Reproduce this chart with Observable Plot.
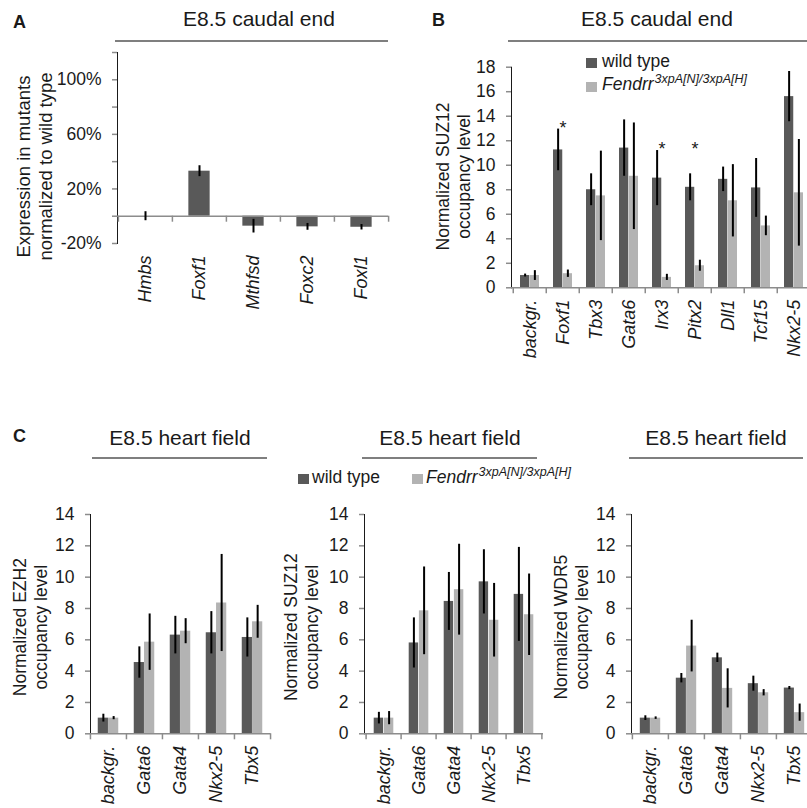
<!DOCTYPE html>
<html>
<head>
<meta charset="utf-8">
<script src="https://cdn.jsdelivr.net/npm/d3@7"></script>
<script src="https://cdn.jsdelivr.net/npm/@observablehq/plot@0.6"></script>
<style>
html, body { margin: 0; padding: 0; background: #fff; }
#fig { position: relative; width: 807px; height: 808px; overflow: hidden; background: #fff;
  font-family: 'Liberation Sans', Arial, Helvetica, sans-serif; color: #1a1a1a; }
.title { position: absolute; font-size: 21px; line-height: 21px; white-space: nowrap; text-align: center; width: 400px; }
.hline { position: absolute; height: 2px; background: #7f7f7f; }
.letter { position: absolute; font-size: 18px; line-height: 18px; font-weight: bold; }
.sw { position: absolute; width: 11px; height: 10px; }
.lg { position: absolute; font-size: 17.5px; line-height: 17.5px; white-space: nowrap; }
.lg i sup { font-size: 12.5px; vertical-align: baseline; position: relative; top: -7px; margin-left: 1px; }
.panel { position: absolute; }
.panel svg [aria-label^="y-axis"] line, .panel svg [aria-label^="y-axis"] path { stroke: #8c8c8c; stroke-width: 1.5px; }
.panel svg [aria-label^="y-axis"] text { fill: #1a1a1a; }
.panel svg [aria-label^="x-axis"] text { fill: #1a1a1a; font-style: italic; font-size: 18px; }
</style>
</head>
<body>
<div id="fig">
  <div class="letter" style="left:13px;top:12.8px;">A</div>
  <div class="title" style="left:59px;top:8.2px;">E8.5 caudal end</div>
  <div class="hline" style="left:115px;width:273px;top:40px;"></div>

  <div class="letter" style="left:432px;top:10.8px;">B</div>
  <div class="title" style="left:457px;top:8.2px;">E8.5 caudal end</div>
  <div class="hline" style="left:508px;width:299px;top:40px;"></div>
  <div class="sw" style="left:586px;top:58px;background:#595959;"></div>
  <div class="lg" style="left:602px;top:52.7px;">wild type</div>
  <div class="sw" style="left:586px;top:82px;background:#b3b3b3;"></div>
  <div class="lg" style="left:602px;top:76.2px;"><i>Fendrr<sup>3xpA[N]/3xpA[H]</sup></i></div>

  <div class="letter" style="left:13px;top:426.8px;">C</div>
  <div class="title" style="left:-20px;top:427.2px;">E8.5 heart field</div>
  <div class="hline" style="left:92px;width:175px;top:457px;"></div>
  <div class="title" style="left:250px;top:427.2px;">E8.5 heart field</div>
  <div class="hline" style="left:362px;width:175px;top:457px;"></div>
  <div class="title" style="left:516px;top:427.2px;">E8.5 heart field</div>
  <div class="hline" style="left:629px;width:174px;top:457px;"></div>
  <div class="sw" style="left:298px;top:474px;background:#595959;"></div>
  <div class="lg" style="left:312px;top:469.2px;">wild type</div>
  <div class="sw" style="left:412px;top:474px;background:#b3b3b3;"></div>
  <div class="lg" style="left:426px;top:469.2px;"><i>Fendrr<sup>3xpA[N]/3xpA[H]</sup></i></div>
</div>
<script>
// ---------- DATA ----------
// Panel A: expression in mutants normalized to wild type (%)
const aGenes = ["Hmbs", "Foxf1", "Mthfsd", "Foxc2", "Foxl1"];
const aExpression = [0, 33, -7.3, -7.8, -8.1];
const aError = [3.3, 4, 5, 2.5, 2];
const aTicks = [-20, 0, 20, 40, 60, 80, 100, 120];
const aTickLabels = ["-20%", "", "20%", "", "60%", "", "100%", ""];

// Panel B: SUZ12 occupancy, caudal end
const bGenes = ["backgr.", "Foxf1", "Tbx3", "Gata6", "Irx3", "Pitx2", "Dll1", "Tcf15", "Nkx2-5"];
const bWildType = [1.0, 11.25, 8.0, 11.4, 8.95, 8.2, 8.85, 8.15, 15.6];
const bWildTypeErr = [0.12, 1.7, 1.3, 2.3, 2.25, 1.1, 1.0, 2.4, 2.05];
const bMutant = [1.0, 1.15, 7.5, 9.1, 0.85, 1.8, 7.1, 5.05, 7.75];
const bMutantErr = [0.4, 0.3, 3.65, 4.35, 0.25, 0.45, 2.95, 0.8, 4.35];
const bSigGenes = ["Foxf1", "Irx3", "Pitx2"];
const bSigLevel = [13.45, 11.7, 11.7];
const bTicks = [0, 2, 4, 6, 8, 10, 12, 14, 16, 18];

// Panel C: heart field occupancy
const cGenes = ["backgr.", "Gata6", "Gata4", "Nkx2-5", "Tbx5"];
const cTicks = [0, 2, 4, 6, 8, 10, 12, 14];
const ezh2WildType = [1.0, 4.55, 6.3, 6.45, 6.15];
const ezh2WildTypeErr = [0.25, 1.0, 1.2, 1.35, 1.25];
const ezh2Mutant = [1.0, 5.85, 6.55, 8.35, 7.15];
const ezh2MutantErr = [0.1, 1.8, 0.8, 3.1, 1.05];
const suz12WildType = [1.0, 5.8, 8.45, 9.7, 8.9];
const suz12WildTypeErr = [0.37, 1.6, 1.85, 2.05, 3.0];
const suz12Mutant = [1.0, 7.85, 9.2, 7.25, 7.6];
const suz12MutantErr = [0.42, 2.8, 2.9, 2.35, 2.6];
const wdr5WildType = [1.0, 3.55, 4.85, 3.2, 2.92];
const wdr5WildTypeErr = [0.15, 0.3, 0.3, 0.48, 0.1];
const wdr5Mutant = [1.0, 5.6, 2.9, 2.62, 1.35];
const wdr5MutantErr = [0.08, 1.65, 1.25, 0.2, 0.55];

// ---------- STYLE ----------
const FONT = "'Liberation Sans', Arial, Helvetica, sans-serif";
const DARK = "#595959", LIGHT = "#b3b3b3", AXIS = "#8c8c8c";
const baseStyle = {background: "transparent", fontFamily: FONT, fontSize: "17.5px", color: "#1a1a1a", maxWidth: "none", overflow: "visible"};
const fig = document.getElementById("fig");

function place(svg, left, top) {
  const d = document.createElement("div");
  d.className = "panel";
  d.style.left = left + "px";
  d.style.top = top + "px";
  d.appendChild(svg);
  fig.appendChild(d);
}

function axisTitle(label, dx, dy, size = 18) {
  return Plot.text([label], {text: d => d, frameAnchor: "left", textAnchor: "middle", lineAnchor: "middle",
    rotate: -90, dx, dy, fontSize: size, lineHeight: 1.2, fill: "#1a1a1a"});
}

// ---------- PANEL A ----------
(function () {
  const rows = aGenes.map((gene, i) => ({gene, v: aExpression[i], e: aError[i]}));
  const ml = 117, mr = 12, mt = 52, frameH = 191, height = 330, width = 400;
  const step = (width - ml - mr) / aGenes.length;
  const barW = 21.5, inset = (step - barW) / 2;
  const tick = 6 * 140 / frameH;
  place(Plot.plot({
    width, height, marginLeft: ml, marginRight: mr, marginTop: mt, marginBottom: height - mt - frameH,
    style: baseStyle,
    x: {domain: aGenes, padding: 0, tickSize: 0, tickPadding: 12, tickRotate: -90, label: null},
    y: {domain: [-20, 120], ticks: aTicks, tickFormat: d => aTickLabels[aTicks.indexOf(d)], tickSize: 5, tickPadding: 11, line: true, label: null},
    marks: [
      Plot.barY(rows, {x: "gene", y: "v", fill: DARK, insetLeft: inset, insetRight: inset}),
      Plot.ruleY([0], {stroke: AXIS, strokeWidth: 1.5}),
      Plot.ruleX(aGenes, {x: d => d, y1: 0, y2: -tick, dx: -step / 2, stroke: AXIS, strokeWidth: 1.5}),
      Plot.ruleX(aGenes.slice(-1), {x: d => d, y1: 0, y2: -tick, dx: step / 2, stroke: AXIS, strokeWidth: 1.5}),
      Plot.ruleX(rows, {x: "gene", y1: d => d.v - d.e, y2: d => d.v + d.e, stroke: "#000", strokeWidth: 2}),
      axisTitle("Expression in mutants\nnormalized to wild type", -83.5, 18.5, 18.5)
    ]
  }), 0, 0);
})();

// ---------- GROUPED PANELS ----------
function grouped(cfg) {
  const {genes, wt, wtErr, mut, mutErr, yMax, ticks, ylabel, ml, mt, mr, frameH, height, step, barW, labelDx, labelDy, extra = []} = cfg;
  const rows = genes.map((gene, i) => ({gene, wt: wt[i], wtErr: wtErr[i], mut: mut[i], mutErr: mutErr[i]}));
  const outer = (step - 2 * barW) / 2;
  const tick = 6 * yMax / frameH;
  return Plot.plot({
    width: ml + step * genes.length + mr, height,
    marginLeft: ml, marginTop: mt, marginRight: mr, marginBottom: height - mt - frameH,
    style: baseStyle,
    x: {domain: genes, padding: 0, tickSize: 0, tickPadding: 12, tickRotate: -90, label: null},
    y: {domain: [0, yMax], ticks, tickSize: 5, tickPadding: 11, line: true, label: null},
    marks: [
      Plot.barY(rows, {x: "gene", y: "wt", fill: DARK, insetLeft: outer, insetRight: outer + barW}),
      Plot.barY(rows, {x: "gene", y: "mut", fill: LIGHT, insetLeft: outer + barW, insetRight: outer}),
      Plot.ruleY([0], {stroke: AXIS, strokeWidth: 1.5}),
      Plot.ruleX(genes, {x: d => d, y1: 0, y2: -tick, dx: -step / 2, stroke: AXIS, strokeWidth: 1.5}),
      Plot.ruleX(genes.slice(-1), {x: d => d, y1: 0, y2: -tick, dx: step / 2, stroke: AXIS, strokeWidth: 1.5}),
      Plot.ruleX(rows, {x: "gene", y1: d => d.wt - d.wtErr, y2: d => d.wt + d.wtErr, dx: -barW / 2, stroke: "#000", strokeWidth: 2}),
      Plot.ruleX(rows, {x: "gene", y1: d => d.mut - d.mutErr, y2: d => d.mut + d.mutErr, dx: barW / 2, stroke: "#000", strokeWidth: 2}),
      axisTitle(ylabel, labelDx, labelDy, 17.5),
      ...extra
    ]
  });
}

// Panel B
const bSig = bSigGenes.map((gene, i) => ({gene, level: bSigLevel[i]}));
place(grouped({
  genes: bGenes, wt: bWildType, wtErr: bWildTypeErr, mut: bMutant, mutErr: bMutantErr,
  yMax: 18, ticks: bTicks, ylabel: "Normalized SUZ12\noccupancy level",
  ml: 111, mt: 66.7, mr: 5, frameH: 220.6, height: 380, step: 33.5, barW: 9.75, labelDx: -59, labelDy: -1,
  extra: [Plot.text(bSig, {x: "gene", y: "level", text: () => "*", fontSize: 18, dy: 5, fill: "#1a1a1a"})]
}), 400, 0);

// Panel C1 (EZH2)
place(grouped({
  genes: cGenes, wt: ezh2WildType, wtErr: ezh2WildTypeErr, mut: ezh2Mutant, mutErr: ezh2MutantErr,
  yMax: 14, ticks: cTicks, ylabel: "Normalized EZH2\noccupancy level",
  ml: 90, mt: 34, mr: 5, frameH: 219.3, height: 328, step: 36.1, barW: 10.3, labelDx: -61, labelDy: 3
}), 0, 480);

// Panel C2 (SUZ12)
place(grouped({
  genes: cGenes, wt: suz12WildType, wtErr: suz12WildTypeErr, mut: suz12Mutant, mutErr: suz12MutantErr,
  yMax: 14, ticks: cTicks, ylabel: "Normalized SUZ12\noccupancy level",
  ml: 89, mt: 34, mr: 5, frameH: 219.3, height: 328, step: 35.8, barW: 10.2, labelDx: -64, labelDy: 3
}), 275, 480);

// Panel C3 (WDR5)
place(grouped({
  genes: cGenes, wt: wdr5WildType, wtErr: wdr5WildTypeErr, mut: wdr5Mutant, mutErr: wdr5MutantErr,
  yMax: 14, ticks: cTicks, ylabel: "Normalized WDR5\noccupancy level",
  ml: 86, mt: 34, mr: 5, frameH: 219.3, height: 328, step: 36.2, barW: 10.3, labelDx: -61, labelDy: 3
}), 545, 480);
</script>
</body>
</html>
